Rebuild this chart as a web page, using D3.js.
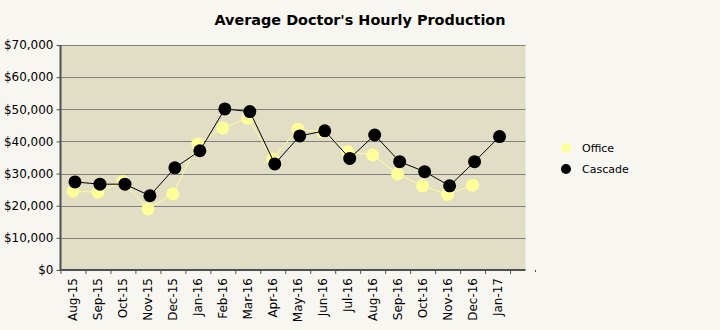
<!DOCTYPE html>
<html><head><meta charset="utf-8">
<script src="https://cdn.jsdelivr.net/npm/d3@7"></script>
<style>
html,body{margin:0;padding:0;background:#f8f6f0;}
svg{display:block;font-family:"DejaVu Sans",Verdana,sans-serif;}
</style></head><body>
<svg id="c" width="720" height="330"></svg>
<script>
const categories = ["Aug-15","Sep-15","Oct-15","Nov-15","Dec-15","Jan-16","Feb-16","Mar-16","Apr-16","May-16","Jun-16","Jul-16","Aug-16","Sep-16","Oct-16","Nov-16","Dec-16","Jan-17",""];
const office  = [24500,24200,27500,19000,23700,39200,44200,47200,34500,43800,43000,36800,35800,29900,26200,23500,26400,null,null];
const cascade = [27400,26700,26700,23100,31800,37100,50100,49300,33000,41700,43300,34700,42000,33700,30600,26200,33700,41500,null];
const yTicks = [0,10000,20000,30000,40000,50000,60000,70000];
const seriesNames = ["Office","Cascade"];
const colors = {Office:"#ffff99", Cascade:"#000000"};

const svg = d3.select("#c");
const plotL = 60.5, plotR = 525.5, plotT = 45, plotB = 270;
const x = d3.scaleBand().domain(categories.map((c,i)=>i)).range([plotL, 535]);
const y = d3.scaleLinear().domain([0,70000]).range([plotB, plotT]);

svg.append("text").attr("x",360).attr("y",25).attr("text-anchor","middle")
  .attr("font-size",14.4).attr("font-weight","bold").attr("fill","#000")
  .text("Average Doctor's Hourly Production");

svg.append("rect").attr("x",plotL).attr("y",plotT).attr("width",plotR-plotL).attr("height",plotB-plotT).attr("fill","#e1dec5");

// gridlines
svg.append("g").selectAll("line").data(yTicks.filter(d=>d>0)).join("line")
  .attr("x1",plotL).attr("x2",plotR).attr("y1",d=>Math.round(y(d))+0.5).attr("y2",d=>Math.round(y(d))+0.5)
  .attr("stroke","#808080").attr("stroke-width",1);

// y axis
const yAxis = d3.axisLeft(y).tickValues(yTicks).tickSize(4).tickPadding(3)
  .tickFormat(d=>"$"+d3.format(",")(d));
const gy = svg.append("g").attr("transform",`translate(${plotL},0)`).call(yAxis);
gy.select(".domain").remove();
gy.selectAll("line").attr("stroke","#505050");
gy.selectAll("text").attr("font-size",12).attr("fill","#000").attr("font-family","DejaVu Sans, Verdana, sans-serif");

// x axis
const xAxis = d3.axisBottom(x).tickFormat(i=>categories[i]).tickSize(0).tickPadding(5);
const gx = svg.append("g").attr("transform",`translate(0,${plotB})`).call(xAxis);
gx.select(".domain").remove();
gx.selectAll("text").attr("font-size",12).attr("fill","#000")
  .attr("font-family","DejaVu Sans, Verdana, sans-serif")
  .attr("transform","rotate(-90)").attr("text-anchor","end")
  .attr("x",-8).attr("y",0).attr("dy","0.35em");
// x tick marks at band boundaries
svg.append("g").selectAll("line").data(categories.map((c,i)=>i)).join("line")
  .attr("x1",i=>x(i)+0.5).attr("x2",i=>x(i)+0.5).attr("y1",plotB).attr("y2",plotB+4)
  .attr("stroke","#505050");
svg.append("line").attr("x1",535.5).attr("x2",535.5).attr("y1",plotB).attr("y2",plotB+2).attr("stroke","#505050");

// axis lines
svg.append("line").attr("x1",plotL).attr("x2",plotL).attr("y1",plotT).attr("y2",plotB+1).attr("stroke","#505050").attr("stroke-width",2);
svg.append("line").attr("x1",plotL-1).attr("x2",plotR).attr("y1",plotB).attr("y2",plotB).attr("stroke","#505050").attr("stroke-width",2);

const cx = i => x(i) + x.bandwidth()/2;
const offsets = {Office:0, Cascade:2};
const data = {Office:office, Cascade:cascade};
seriesNames.forEach(name=>{
  const vals = data[name];
  const pts = vals.map((v,i)=>({i,v})).filter(d=>d.v!=null);
  const line = d3.line().x(d=>cx(d.i)+offsets[name]).y(d=>y(d.v));
  svg.append("path").datum(pts).attr("d",line).attr("fill","none")
    .attr("stroke",colors[name]).attr("stroke-width",1);
  svg.append("g").selectAll("circle").data(pts).join("circle")
    .attr("cx",d=>cx(d.i)+offsets[name]).attr("cy",d=>y(d.v)).attr("r",6.5)
    .attr("fill",colors[name]);
});

// legend
const lg = svg.append("g");
seriesNames.forEach((name,k)=>{
  const ly = 148 + k*21;
  lg.append("circle").attr("cx",566).attr("cy",ly).attr("r",5).attr("fill",colors[name]);
  lg.append("text").attr("x",582).attr("y",ly).attr("dy","0.35em").attr("font-size",11).attr("fill","#000").text(name);
});
</script>
</body></html>
